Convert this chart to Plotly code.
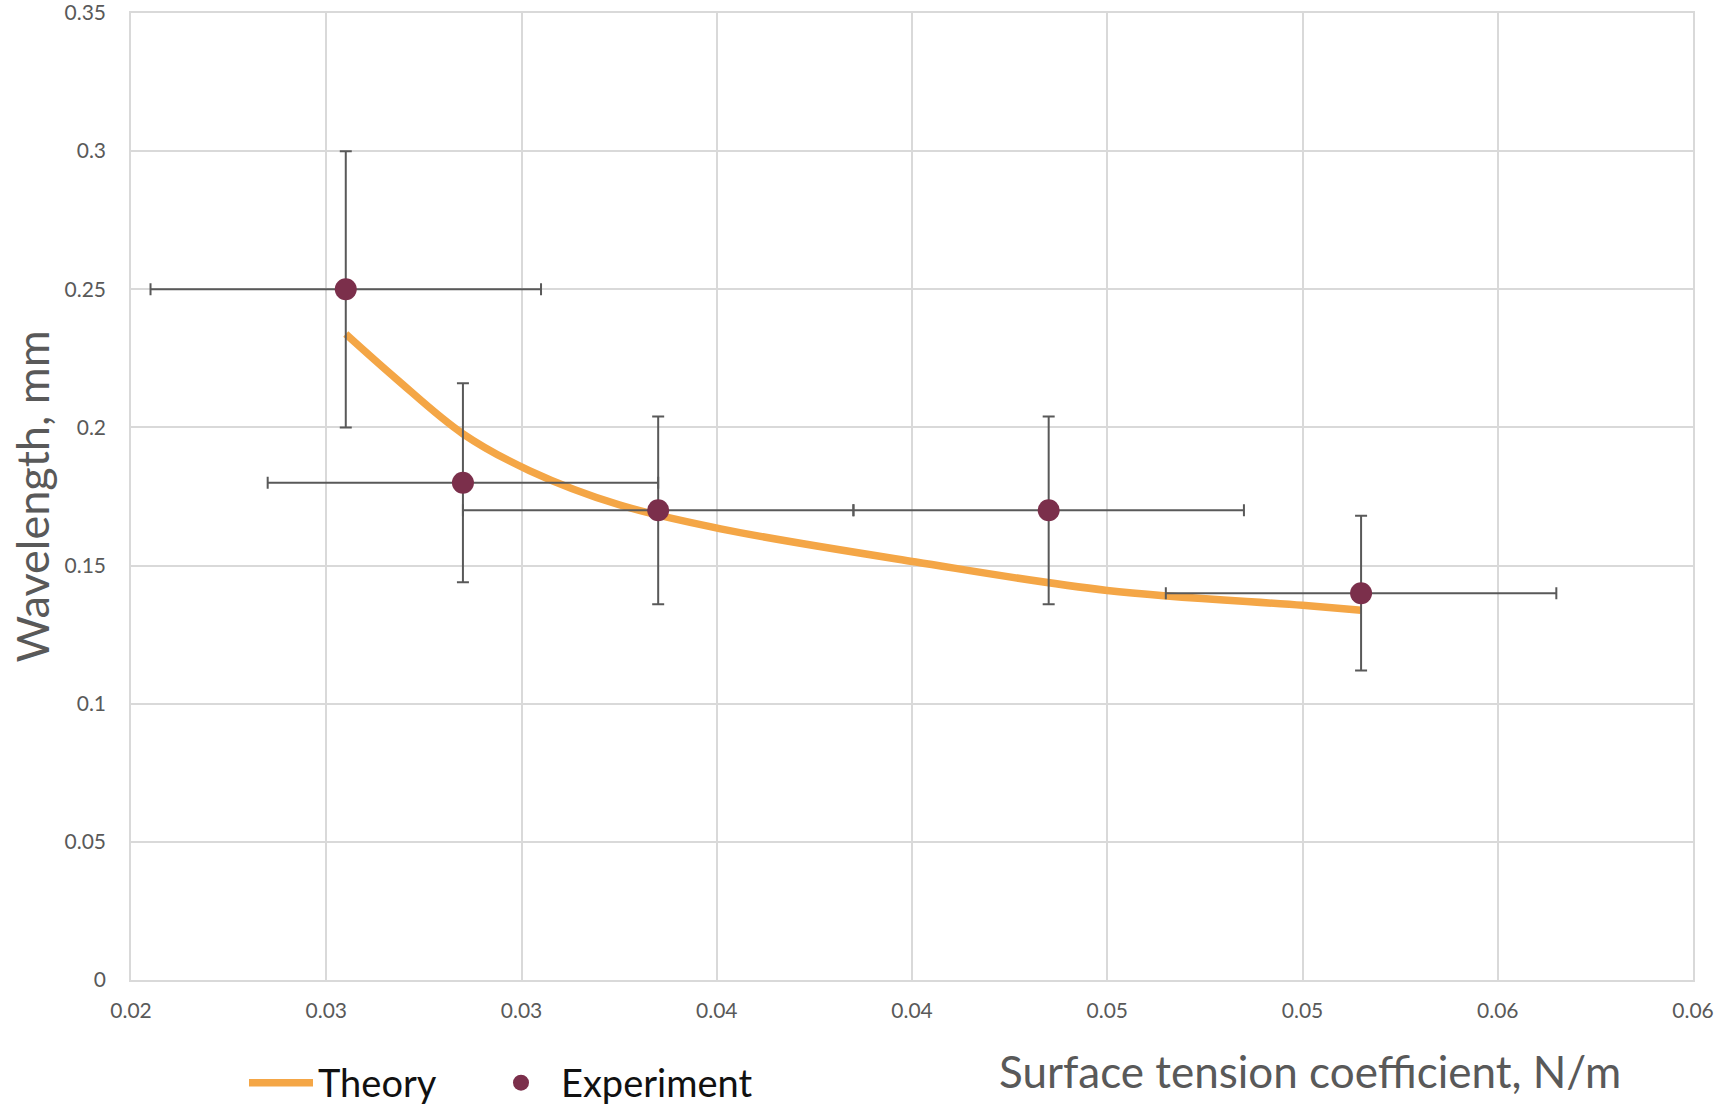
import plotly.graph_objects as go

# ---- data ----
theory_x = [0.0255, 0.0268, 0.0285, 0.0302, 0.0325, 0.0351, 0.0401, 0.0450, 0.0500, 0.0515]
theory_y = [0.2338, 0.2175, 0.1977, 0.1844, 0.1720, 0.1633, 0.1513, 0.1410, 0.1356, 0.1338]

exp_x = [0.0255, 0.0285, 0.0335, 0.0435, 0.0515]
exp_y = [0.25, 0.18, 0.17, 0.17, 0.14]
exp_x_err = [0.005, 0.005, 0.005, 0.005, 0.005]
exp_y_err = [0.05, 0.036, 0.034, 0.034, 0.028]

x_tickvals = [0.020, 0.025, 0.030, 0.035, 0.040, 0.045, 0.050, 0.055, 0.060]
x_ticktext = ["0.02", "0.03", "0.03", "0.04", "0.04", "0.05", "0.05", "0.06", "0.06"]
y_tickvals = [0, 0.05, 0.1, 0.15, 0.2, 0.25, 0.3, 0.35]
y_ticktext = ["0", "0.05", "0.1", "0.15", "0.2", "0.25", "0.3", "0.35"]

FONT = "Lato, 'Open Sans', sans-serif"
TXT = "#595959"
GRID = "#d9d9d9"
LEG_FONT = dict(family=FONT, size=38, color="#111111")

fig = go.Figure()
fig.add_trace(go.Scatter(
    x=theory_x, y=theory_y, mode="lines", name="Theory", legend="legend",
    line=dict(color="#F4A646", width=7.5, shape="spline", smoothing=1.0),
))
fig.add_trace(go.Scatter(
    x=exp_x, y=exp_y, mode="markers", name="Experiment", legend="legend2",
    marker=dict(color="#7B2F4B", size=22),
    error_x=dict(type="data", array=exp_x_err, color=TXT, thickness=2, width=6),
    error_y=dict(type="data", array=exp_y_err, color=TXT, thickness=2, width=6),
))

fig.update_layout(
    width=1724, height=1109,
    margin=dict(l=131, r=31, t=13, b=129),
    plot_bgcolor="white", paper_bgcolor="white",
    font=dict(family=FONT, color=TXT),
    showlegend=True,
    legend=dict(
        orientation="h", xref="container", yref="container",
        x=244 / 1724, xanchor="left", y=0.0235, yanchor="middle",
        font=LEG_FONT, itemwidth=64, bgcolor="rgba(0,0,0,0)",
    ),
    legend2=dict(
        orientation="h", xref="container", yref="container",
        x=481 / 1724, xanchor="left", y=0.0235, yanchor="middle",
        font=LEG_FONT, itemwidth=70, bgcolor="rgba(0,0,0,0)",
    ),
    annotations=[
        dict(text="Surface tension coefficient, N/m", xref="paper", yref="paper",
             x=0.7548, y=-0.0944, xanchor="center", yanchor="middle",
             showarrow=False, font=dict(family=FONT, size=44, color=TXT)),
        dict(text="Wavelength, mm", xref="paper", yref="paper",
             x=-0.064, y=0.5, xanchor="center", yanchor="middle", textangle=-90,
             showarrow=False, font=dict(family=FONT, size=45, color=TXT)),
    ],
)
fig.update_xaxes(
    range=[0.02, 0.06], tickvals=x_tickvals, ticktext=x_ticktext,
    showgrid=True, gridcolor=GRID, gridwidth=1.5, zeroline=False,
    showline=True, linecolor=GRID, linewidth=1.5, mirror=True, automargin=False,
    ticks="", ticklabelstandoff=11, ticklabeloverflow="allow",
    tickfont=dict(family=FONT, size=21, color=TXT),
)
fig.update_yaxes(
    range=[0, 0.35], tickvals=y_tickvals, ticktext=y_ticktext,
    showgrid=True, gridcolor=GRID, gridwidth=1.5, zeroline=False,
    showline=True, linecolor=GRID, linewidth=1.5, mirror=True, automargin=False,
    ticks="", ticklabelstandoff=19, ticklabeloverflow="allow",
    tickfont=dict(family=FONT, size=21, color=TXT),
)
fig.write_html("out.html")
